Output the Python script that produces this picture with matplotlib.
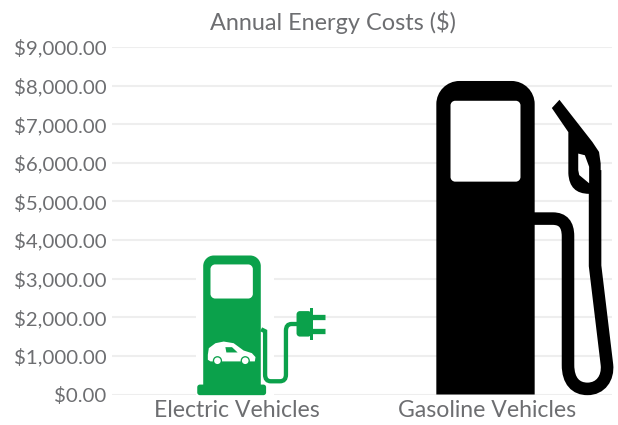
import matplotlib
matplotlib.use("Agg")
import matplotlib.pyplot as plt
from matplotlib.path import Path
from matplotlib.patches import PathPatch, Ellipse

categories = ["Electric Vehicles", "Gasoline Vehicles"]
costs = [3600, 8120]
y_ticks = [0, 1000, 2000, 3000, 4000, 5000, 6000, 7000, 8000, 9000]
title = "Annual Energy Costs ($)"

GREEN = "#0ba14b"
TEXT = "#6d6e71"
GRID = "#eeeeee"
M, L, C3, C4 = Path.MOVETO, Path.LINETO, Path.CURVE3, Path.CURVE4

W, H = 618, 425
fig = plt.figure(figsize=(W / 100, H / 100), dpi=100)
ax = fig.add_axes([112 / W, 1 - 394.5 / H, 500 / W, 347.5 / H])
ax.set_xlim(-0.5, 1.5)
ax.set_ylim(0, 9000)
ax.set_xticks(range(len(categories)), categories)
ax.set_yticks(y_ticks, [f"${v:,.2f}" for v in y_ticks])
ax.grid(axis="y", color=GRID, lw=1.5)
ax.set_axisbelow(True)
for s in ax.spines.values():
    s.set_visible(False)
ax.tick_params(length=0, labelcolor=TEXT)
ax.tick_params(axis="y", labelsize=14.7, pad=4)
ax.tick_params(axis="x", labelsize=16.6, pad=4)
for t in ax.get_xticklabels() + ax.get_yticklabels():
    t.set_fontfamily("Lato")
fig.text(333 / W, 1 - 22 / H, title, ha="center", va="center", fontsize=16.9, color=TEXT, family="Lato")

PX_PER_DOLLAR = 347.5 / 9000
PX_PER_CAT = 250


class Icon:
    # icon drawn in the coordinates of its own artwork, scaled by the bar value
    def __init__(self, i, value, cx, top, bottom, dx=0):
        self.i, self.cx, self.bottom, self.dx = i, cx, bottom, dx
        self.sy = value / (bottom - top)
        self.sx = self.sy * PX_PER_DOLLAR / PX_PER_CAT
        self.px = self.sy * PX_PER_DOLLAR

    def pts(self, pts):
        return [(self.i + self.dx + (x - self.cx) * self.sx, (self.bottom - y) * self.sy) for x, y in pts]

    def fill(self, pts, codes=None, color="k", z=3):
        p = self.pts(pts)
        if codes is None:
            codes = [M] + [L] * (len(p) - 1)
        ax.add_patch(PathPatch(Path(p, codes), fc=color, ec="none", zorder=z, clip_on=False))

    def stroke(self, pts, codes, width, color="k", z=3):
        lw = width * self.px * 72 / fig.dpi
        ax.add_patch(PathPatch(Path(self.pts(pts), codes), fc="none", ec=color, lw=lw, zorder=z,
                               capstyle="butt", clip_on=False))

    def round_box(self, x0, y0, x1, y1, r, color, z=3, top_only=False):
        k = r * 0.45
        b = 0 if top_only else r
        kb = 0 if top_only else k
        pts = [(x0 + r, y0), (x1 - r, y0), (x1 - k, y0), (x1, y0 + k), (x1, y0 + r),
               (x1, y1 - b), (x1, y1 - kb), (x1 - kb, y1), (x1 - b, y1),
               (x0 + b, y1), (x0 + kb, y1), (x0, y1 - kb), (x0, y1 - b),
               (x0, y0 + r), (x0, y0 + k), (x0 + k, y0), (x0 + r, y0)]
        codes = [M, L, C4, C4, C4, L, C4, C4, C4, L, C4, C4, C4, L, C4, C4, C4]
        self.fill(pts, codes, color, z)


# electric pump
e = Icon(0, costs[0], 155, 45, 465, dx=-0.02)
e.fill([(45, 25), (282, 25), (282, 465), (45, 465)], color="white", z=2)
e.round_box(68, 45, 242, 445, 32, GREEN, top_only=True)
e.round_box(50, 435, 258, 467, 8, GREEN)
e.round_box(90, 72, 218, 175, 14, "white", z=4)
e.stroke([(243, 268), (255, 274), (255, 405), (255, 425), (272, 425), (300, 425),
          (318, 425), (318, 405), (318, 272), (318, 252), (335, 252), (355, 252)],
         [M, L, L, C3, C3, L, C3, C3, L, C3, C3, L], 13, GREEN)
e.round_box(350, 213, 395, 290, 10, GREEN)
e.fill([(392, 203), (399, 203), (399, 300), (392, 300)], color=GREEN)
e.stroke([(395, 232), (437, 232)], [M, L], 16, GREEN)
e.stroke([(395, 272), (437, 272)], [M, L], 16, GREEN)
# car
e.fill([(82, 345), (85, 325), (105, 310), (130, 305), (160, 310), (190, 332), (215, 340), (226, 352),
        (224, 365), (90, 365), (82, 360)], color="white", z=4)
e.fill([(135, 322), (155, 322), (172, 338), (138, 338)], color=GREEN, z=5)
for cx in (111, 195):
    for r, col, z in ((14, GREEN, 5), (10, "white", 6)):
        x, y = e.pts([(cx, 363)])[0]
        ax.add_patch(Ellipse((x, y), 2 * r * e.sx, 2 * r * e.sy, fc=col, ec="none", zorder=z))

# gasoline pump
g = Icon(1, costs[1], 196, 30, 980, dx=-0.006)
g.round_box(47, 30, 345, 980, 70, "black", top_only=True)
g.round_box(90, 90, 302, 335, 14, "white", z=4)
g.stroke([(340, 447), (400, 447), (446, 447), (446, 500), (446, 890),
          (446, 940), (470, 963), (505, 963), (545, 963), (568, 930), (564, 890),
          (528, 590), (528, 300)],
         [M, L, C3, C3, L, C4, C4, C4, C4, C4, C4, L, L], 38)
g.fill([(420, 87), (397, 112), (447, 185), (447, 310), (450, 372), (510, 372), (545, 372),
        (545, 280), (540, 245), (520, 215)],
       [M, L, L, L, C3, C3, L, L, L, L])
g.fill([(477, 250), (497, 255), (510, 290), (510, 340), (480, 315), (477, 300)], color="white", z=4)

fig.savefig("out.png", dpi=100, facecolor="white")
